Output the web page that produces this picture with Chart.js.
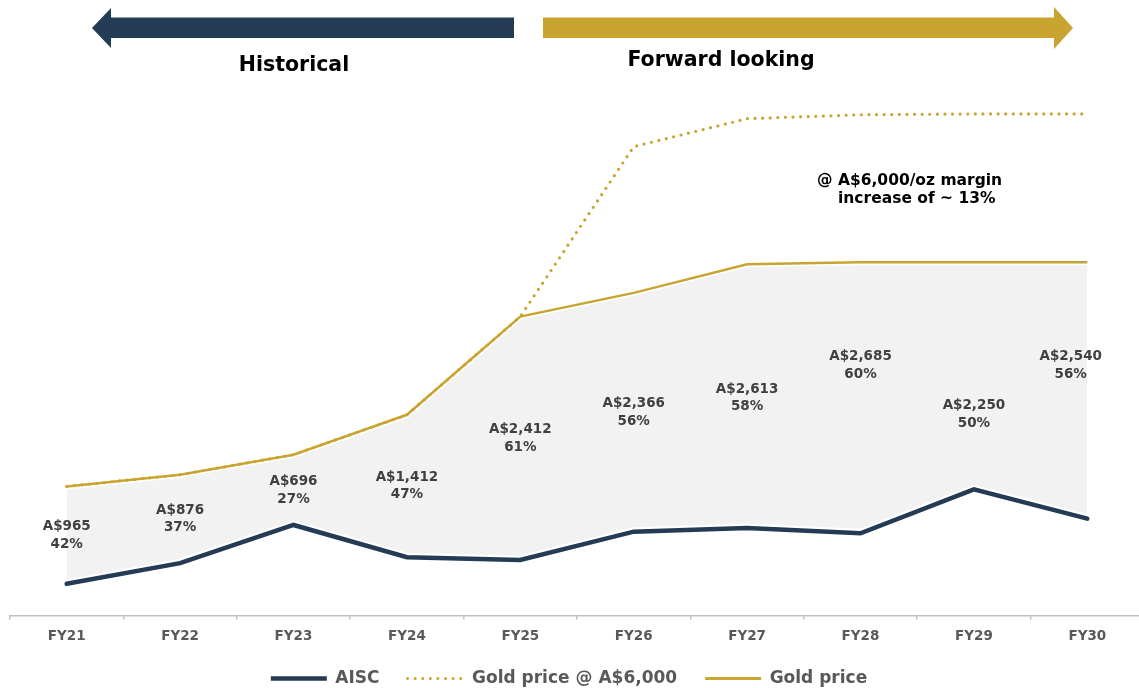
<!DOCTYPE html>
<html>
<head>
<meta charset="utf-8">
<script src="https://cdn.jsdelivr.net/npm/chart.js@4"></script>
<style>
  html, body { margin: 0; padding: 0; background: #fff; overflow: hidden; }
  #wrap { width: 1144px; height: 697px; position: relative; }
</style>
</head>
<body>
<div id="wrap"><canvas id="marginChart"></canvas></div>
<script>
const categories = ['FY21', 'FY22', 'FY23', 'FY24', 'FY25', 'FY26', 'FY27', 'FY28', 'FY29', 'FY30'];
const aisc = [1314, 1519, 1897, 1577, 1550, 1831, 1867, 1815, 2250, 1960];
const goldPrice = [2279, 2395, 2593, 2989, 3962, 4197, 4480, 4500, 4500, 4500];
const goldAt6000 = [2279, 2395, 2593, 2989, 3962, 5646, 5923, 5962, 5970, 5970];
const marginValues = ['A$965', 'A$876', 'A$696', 'A$1,412', 'A$2,412', 'A$2,366', 'A$2,613', 'A$2,685', 'A$2,250', 'A$2,540'];
const marginPcts = ['42%', '37%', '27%', '47%', '61%', '56%', '58%', '60%', '50%', '56%'];
// y level (A$/oz) where each margin label sits
const labelLevels = [1795, 1958, 2239, 2285, 2756, 3009, 3156, 3478, 2992, 3478];
const yMin = 1000;
const yMax = 7000;

const NAVY = '#243B55';
const GOLD = '#C9A430';
const FONT = '"DejaVu Sans", sans-serif';
const legendRank = ['AISC', 'Gold price @ A$6,000', 'Gold price'];

const overlay = {
    id: 'overlay',
    afterLayout(chart) {
        // nudge legend a little left, as in the original slide
        chart.legend.left -= 8;
        chart.legend.right -= 8;
    },
    afterDatasetsDraw(chart) {
        const ctx = chart.ctx;
        const x = chart.scales.x;
        const y = chart.scales.y;
        ctx.save();
        ctx.fillStyle = '#404040';
        ctx.font = 'bold 13.5px ' + FONT;
        ctx.textAlign = 'center';
        ctx.textBaseline = 'middle';
        categories.forEach((c, i) => {
            let cx = x.getPixelForValue(i);
            const w = ctx.measureText(marginValues[i]).width;
            if (cx + w / 2 > 1102) cx = 1102 - w / 2;
            const cy = y.getPixelForValue(labelLevels[i]);
            ctx.fillText(marginValues[i], cx, cy - 8.8);
            ctx.fillText(marginPcts[i], cx, cy + 8.8);
        });
        ctx.restore();
    },
    afterDraw(chart) {
        const ctx = chart.ctx;
        ctx.save();
        // historical arrow
        ctx.fillStyle = NAVY;
        ctx.beginPath();
        ctx.moveTo(92, 28);
        ctx.lineTo(111, 8);
        ctx.lineTo(111, 17.5);
        ctx.lineTo(514, 17.5);
        ctx.lineTo(514, 38);
        ctx.lineTo(111, 38);
        ctx.lineTo(111, 48);
        ctx.closePath();
        ctx.fill();
        // forward arrow
        ctx.fillStyle = GOLD;
        ctx.beginPath();
        ctx.moveTo(543, 17.5);
        ctx.lineTo(1054, 17.5);
        ctx.lineTo(1054, 7);
        ctx.lineTo(1073, 28);
        ctx.lineTo(1054, 49);
        ctx.lineTo(1054, 38);
        ctx.lineTo(543, 38);
        ctx.closePath();
        ctx.fill();

        ctx.fillStyle = '#000';
        ctx.font = 'bold 20.5px ' + FONT;
        ctx.textAlign = 'center';
        ctx.textBaseline = 'middle';
        ctx.fillText('Historical', 294, 66);
        ctx.fillText('Forward looking', 721, 61);

        ctx.font = 'bold 15.5px ' + FONT;
        ctx.textAlign = 'left';
        ctx.fillText('@ A$6,000/oz margin', 817, 181);
        ctx.fillText('increase of ~ 13%', 838, 199);
        ctx.restore();
    }
};

new Chart(document.getElementById('marginChart'), {
    type: 'line',
    data: {
        labels: categories,
        datasets: [
            {
                label: 'AISC',
                data: aisc,
                borderColor: NAVY,
                backgroundColor: NAVY,
                borderWidth: 4.5,
                borderCapStyle: 'round',
                pointRadius: 0,
                fill: false,
                order: 0,
            },
            {
                label: 'aisc-halo',
                data: aisc,
                borderColor: '#ffffff',
                borderWidth: 9,
                pointRadius: 0,
                fill: false,
                order: 3,
            },
            {
                label: 'margin-area',
                data: goldPrice,
                borderColor: '#ffffff',
                backgroundColor: '#F2F2F2',
                borderWidth: 6,
                pointRadius: 0,
                fill: 0,
                order: 4,
            },
            {
                label: 'Gold price',
                data: goldPrice,
                borderColor: GOLD,
                backgroundColor: GOLD,
                borderWidth: 2.5,
                pointRadius: 0,
                fill: false,
                order: 1,
            },
            {
                label: 'Gold price @ A$6,000',
                data: goldAt6000,
                borderColor: GOLD,
                backgroundColor: GOLD,
                borderWidth: 3.2,
                borderDash: [0, 7.6],
                borderCapStyle: 'round',
                pointRadius: 0,
                fill: false,
                order: 2,
            },
        ],
    },
    options: {
        responsive: true,
        maintainAspectRatio: false,
        animation: false,
        layout: { padding: { left: 10, right: 0, top: 10, bottom: 0 } },
        scales: {
            x: {
                offset: true,
                grid: { display: true, drawOnChartArea: false, drawTicks: true, tickLength: 4, color: '#BFBFBF', lineWidth: 1.5, offset: true },
                border: { display: true, color: '#BFBFBF', width: 1.5 },
                ticks: { color: '#595959', font: { family: FONT, size: 13.5, weight: 'bold' }, padding: 9 },
                afterFit: scale => { scale.height = 26.5; },
            },
            y: {
                display: false,
                min: yMin,
                max: yMax,
            },
        },
        plugins: {
            tooltip: { enabled: false },
            legend: {
                position: 'bottom',
                labels: {
                    usePointStyle: true,
                    pointStyleWidth: 56,
                    padding: 28,
                    color: '#595959',
                    font: { family: FONT, size: 17, weight: 'bold' },
                    generateLabels: chart => chart.data.datasets.map((ds, i) => ({
                        text: ds.label,
                        datasetIndex: i,
                        hidden: false,
                        pointStyle: 'line',
                        fillStyle: ds.borderColor,
                        strokeStyle: ds.borderColor,
                        lineWidth: ds.label === 'AISC' ? 4.5 : 3,
                        lineDash: ds.borderDash || [],
                        lineCap: ds.borderDash ? 'round' : 'butt',
                        fontColor: '#595959',
                    })),
                    filter: item => legendRank.includes(item.text),
                    sort: (a, b) => legendRank.indexOf(a.text) - legendRank.indexOf(b.text),
                },
            },
        },
    },
    plugins: [overlay],
});
</script>
</body>
</html>
